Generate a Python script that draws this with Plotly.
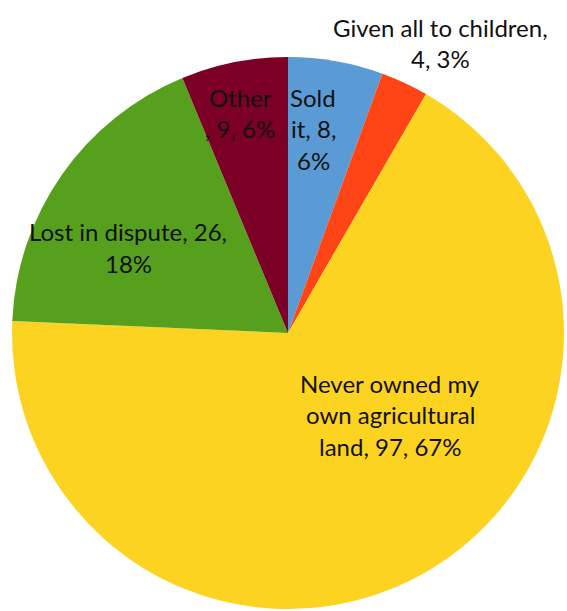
import plotly.graph_objects as go

# Reasons for not owning agricultural land (counts)
categories = ["Sold it", "Given all to children", "Never owned my own agricultural land",
              "Lost in dispute", "Other"]
counts = [8, 4, 97, 26, 9]
colors = ["#5B9BD5", "#FF4515", "#FDD321", "#56A01E", "#7C0025"]

total = sum(counts)
pcts = [round(100 * c / total) for c in counts]

# Label lines as wrapped in the chart, built from the data above
label_lines = {
    "Sold it": ["Sold", "it, {c},", "{p}%"],
    "Given all to children": ["Given all to children,", "{c}, {p}%"],
    "Never owned my own agricultural land": ["Never owned my", "own agricultural", "land, {c}, {p}%"],
    "Lost in dispute": ["Lost in dispute, {c},", "{p}%"],
    "Other": ["Other", ", {c}, {p}%"],
}
# label block centers in pixels (x, y of first line)
label_pos = {
    "Sold it": (313, 97),
    "Given all to children": (440, 27),
    "Never owned my own agricultural land": (390, 383),
    "Lost in dispute": (128, 232),
    "Other": (240, 97),
}

W, H = 567, 611
LINE = 31.5

fig = go.Figure(go.Pie(
    labels=categories,
    values=counts,
    sort=False,
    direction="clockwise",
    rotation=0,
    marker=dict(colors=colors, line=dict(width=0)),
    textinfo="none",
    hoverinfo="skip",
    showlegend=False,
    domain=dict(x=[12 / W, 564 / W], y=[1 - 609 / H, 1 - 57 / H]),
))

for cat, c, p in zip(categories, counts, pcts):
    x0, y0 = label_pos[cat]
    for i, line in enumerate(label_lines[cat]):
        fig.add_annotation(
            x=x0 / W, y=1 - (y0 + i * LINE) / H,
            xref="paper", yref="paper",
            text=line.format(c=c, p=p),
            showarrow=False,
            xanchor="center", yanchor="middle",
            font=dict(family="Lato, Open Sans, sans-serif", size=24, color="#111111"),
        )

fig.update_layout(
    width=W, height=H,
    margin=dict(l=0, r=0, t=0, b=0),
    paper_bgcolor="white",
    plot_bgcolor="white",
)

fig.write_html("out.html")
